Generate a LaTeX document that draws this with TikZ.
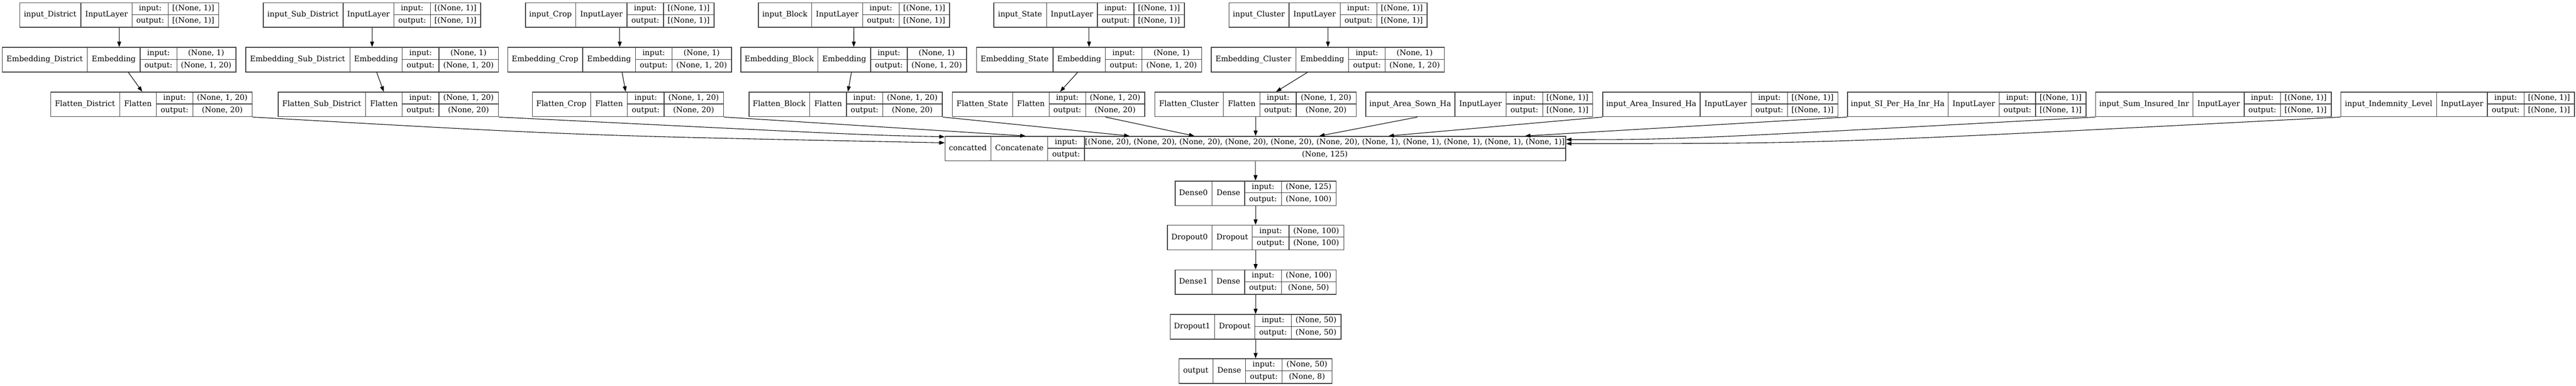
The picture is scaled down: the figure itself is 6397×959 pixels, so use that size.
\documentclass[tikz,border=0pt]{standalone}
\usepackage{fontspec}
\setmainfont{DejaVu Serif}
\usetikzlibrary{arrows.meta,calc}
\tikzset{
  lay/.style={draw=black!75,line width=1pt,inner sep=0pt,minimum height=30.5pt,fill=white},
  cellline/.style={draw=black!75,line width=0.8pt},
  txt/.style={anchor=base,inner sep=0pt,font=\fontsize{9.4}{11}\selectfont},
  arr/.style={-{Triangle[length=6.7pt,width=4.8pt]},line width=0.7pt,black},
}
% name x0 x1 x2 x3 x4 ytop label type
\newcommand{\lbox}[9]{%
  \pgfmathsetmacro\lbW{(#6-#2)*0.5}%
  \node[lay,minimum width=\lbW pt,anchor=north west] (#1) at (#2,#7) {};
  \draw[cellline] (#3,#7) -- ++(0,61) (#4,#7) -- ++(0,61) (#5,#7) -- ++(0,61)
     (#4,#7+30.5) -- (#6,#7+30.5);
  \node[txt] (#1-l) at ({(#2+#3)/2},#7+36) {#8};
  \node[txt] (#1-t) at ({(#3+#4)/2},#7+36) {#9};
  \node[txt] (#1-i) at ({(#4+#5)/2},#7+20.75) {input:};
  \node[txt] (#1-o) at ({(#4+#5)/2},#7+51.25) {output:};
  \def\lbA{#5}\def\lbB{#6}\def\lbY{#7}\def\lbN{#1}%
}
\newcommand{\lio}[2]{%
  \node[txt] (\lbN-iv) at ({(\lbA+\lbB)/2},\lbY+20.75) {#1};
  \node[txt] (\lbN-ov) at ({(\lbA+\lbB)/2},\lbY+51.25) {#2};
}
\begin{document}
\begin{tikzpicture}[x=0.5pt,y=-0.5pt]
\useasboundingbox[fill=white] (0,0) rectangle (6397,959);
% row 0: inputs
\lbox{inD}{48}{201}{328}{418}{542}{6}{input\_District}{InputLayer}\lio{[(None, 1)]}{[(None, 1)]}
\lbox{inSD}{653}{852}{978}{1069}{1193}{6}{input\_Sub\_District}{InputLayer}\lio{[(None, 1)]}{[(None, 1)]}
\lbox{inC}{1304}{1430}{1557}{1648}{1772}{6}{input\_Crop}{InputLayer}\lio{[(None, 1)]}{[(None, 1)]}
\lbox{inB}{1882}{2016}{2142}{2233}{2357}{6}{input\_Block}{InputLayer}\lio{[(None, 1)]}{[(None, 1)]}
\lbox{inS}{2467}{2599}{2725}{2816}{2940}{6}{input\_State}{InputLayer}\lio{[(None, 1)]}{[(None, 1)]}
\lbox{inCl}{3051}{3201}{3328}{3419}{3543}{6}{input\_Cluster}{InputLayer}\lio{[(None, 1)]}{[(None, 1)]}
% row 1: embeddings
\lbox{embD}{5}{217}{348}{439}{585}{117}{Embedding\_District}{Embedding}\lio{(None, 1)}{(None, 1, 20)}
\lbox{embSD}{609}{869}{999}{1090}{1237}{117}{Embedding\_Sub\_District}{Embedding}\lio{(None, 1)}{(None, 1, 20)}
\lbox{embC}{1260}{1447}{1578}{1669}{1816}{117}{Embedding\_Crop}{Embedding}\lio{(None, 1)}{(None, 1, 20)}
\lbox{embB}{1839}{2031}{2162}{2253}{2399}{117}{Embedding\_Block}{Embedding}\lio{(None, 1)}{(None, 1, 20)}
\lbox{embS}{2424}{2615}{2745}{2836}{2983}{117}{Embedding\_State}{Embedding}\lio{(None, 1)}{(None, 1, 20)}
\lbox{embCl}{3007}{3218}{3349}{3440}{3586}{117}{Embedding\_Cluster}{Embedding}\lio{(None, 1)}{(None, 1, 20)}
% row 2: flattens and numeric inputs
\lbox{flD}{125}{297}{388}{479}{625}{228}{Flatten\_District}{Flatten}\lio{(None, 1, 20)}{(None, 20)}
\lbox{flSD}{690}{908}{999}{1090}{1237}{228}{Flatten\_Sub\_District}{Flatten}\lio{(None, 1, 20)}{(None, 20)}
\lbox{flC}{1321}{1467}{1558}{1649}{1796}{228}{Flatten\_Crop}{Flatten}\lio{(None, 1, 20)}{(None, 20)}
\lbox{flB}{1859}{2011}{2102}{2192}{2339}{228}{Flatten\_Block}{Flatten}\lio{(None, 1, 20)}{(None, 20)}
\lbox{flS}{2364}{2515}{2605}{2696}{2842}{228}{Flatten\_State}{Flatten}\lio{(None, 1, 20)}{(None, 20)}
\lbox{flCl}{2867}{3038}{3129}{3219}{3367}{228}{Flatten\_Cluster}{Flatten}\lio{(None, 1, 20)}{(None, 20)}
\lbox{inAS}{3391}{3613}{3740}{3831}{3954}{228}{input\_Area\_Sown\_Ha}{InputLayer}\lio{[(None, 1)]}{[(None, 1)]}
\lbox{inAI}{3979}{4222}{4349}{4439}{4563}{228}{input\_Area\_Insured\_Ha}{InputLayer}\lio{[(None, 1)]}{[(None, 1)]}
\lbox{inSI}{4587}{4838}{4965}{5055}{5179}{228}{input\_SI\_Per\_Ha\_Inr\_Ha}{InputLayer}\lio{[(None, 1)]}{[(None, 1)]}
\lbox{inSum}{5203}{5446}{5573}{5663}{5788}{228}{input\_Sum\_Insured\_Inr}{InputLayer}\lio{[(None, 1)]}{[(None, 1)]}
\lbox{inInd}{5812}{6051}{6177}{6268}{6392}{228}{input\_Indemnity\_Level}{InputLayer}\lio{[(None, 1)]}{[(None, 1)]}
% row 3: concatenate
\lbox{cc}{2346}{2461}{2602}{2693}{3887}{338}{concatted}{Concatenate}\lio{[(None, 20), (None, 20), (None, 20), (None, 20), (None, 20), (None, 20), (None, 1), (None, 1), (None, 1), (None, 1), (None, 1)]}{(None, 125)}
% dense part
\lbox{d0}{2917}{3010}{3091}{3182}{3317}{449}{Dense0}{Dense}\lio{(None, 125)}{(None, 100)}
\lbox{dr0}{2898}{3010}{3110}{3201}{3336}{559}{Dropout0}{Dropout}\lio{(None, 100)}{(None, 100)}
\lbox{d1}{2917}{3010}{3091}{3182}{3317}{670}{Dense1}{Dense}\lio{(None, 100)}{(None, 50)}
\lbox{dr1}{2905}{3016}{3116}{3207}{3329}{781}{Dropout1}{Dropout}\lio{(None, 50)}{(None, 50)}
\lbox{out}{2927}{3012}{3093}{3184}{3307}{891}{output}{Dense}\lio{(None, 50)}{(None, 8)}
% edges: inputs -> embeddings -> flattens
\draw[arr] (inD) -- (embD);
\draw[arr] (inSD) -- (embSD);
\draw[arr] (inC) -- (embC);
\draw[arr] (inB) -- (embB);
\draw[arr] (inS) -- (embS);
\draw[arr] (inCl) -- (embCl);
\draw[arr] (embD) -- (flD);
\draw[arr] (embSD) -- (flSD);
\draw[arr] (embC) -- (flC);
\draw[arr] (embB) -- (flB);
\draw[arr] (embS) -- (flS);
\draw[arr] (embCl) -- (flCl);
% edges into concatenate
\draw[arr] (flD.south east) .. controls (1434,337) .. ($(cc.north west)+(0,17)$);
\draw[arr] (flSD.south east) .. controls (2151,336) .. ($(cc.north west)+(0,2)$);
\draw[arr] (flC.south east) -- ($(cc.north west)+(201,0)$);
\draw[arr] (flB.south east) -- ($(cc.north west)+(459,0)$);
\draw[arr] ($(flS.south west)+(381,0)$) -- ($(cc.north west)+(620,0)$);
\draw[arr] (flCl.south) -- (flCl.south |- cc.north);
\draw[arr] ($(inAS.south west)+(129,0)$) -- ($(cc.north west)+(930,0)$);
\draw[arr] (inAI.south west) -- ($(cc.north west)+(1102,0)$);
\draw[arr] (inSI.south west) -- ($(cc.north west)+(1441,0)$);
\draw[arr] (inSum.south west) .. controls (4168,347) .. ($(cc.north east)+(0,9)$);
\draw[arr] (inInd.south west) .. controls (4534,357) .. ($(cc.north east)+(0,19)$);
% dense chain
\draw[arr] (cc) -- (d0);
\draw[arr] (d0) -- (dr0);
\draw[arr] (dr0) -- (d1);
\draw[arr] (d1) -- (dr1);
\draw[arr] (dr1) -- (out);
\end{tikzpicture}
\end{document}
